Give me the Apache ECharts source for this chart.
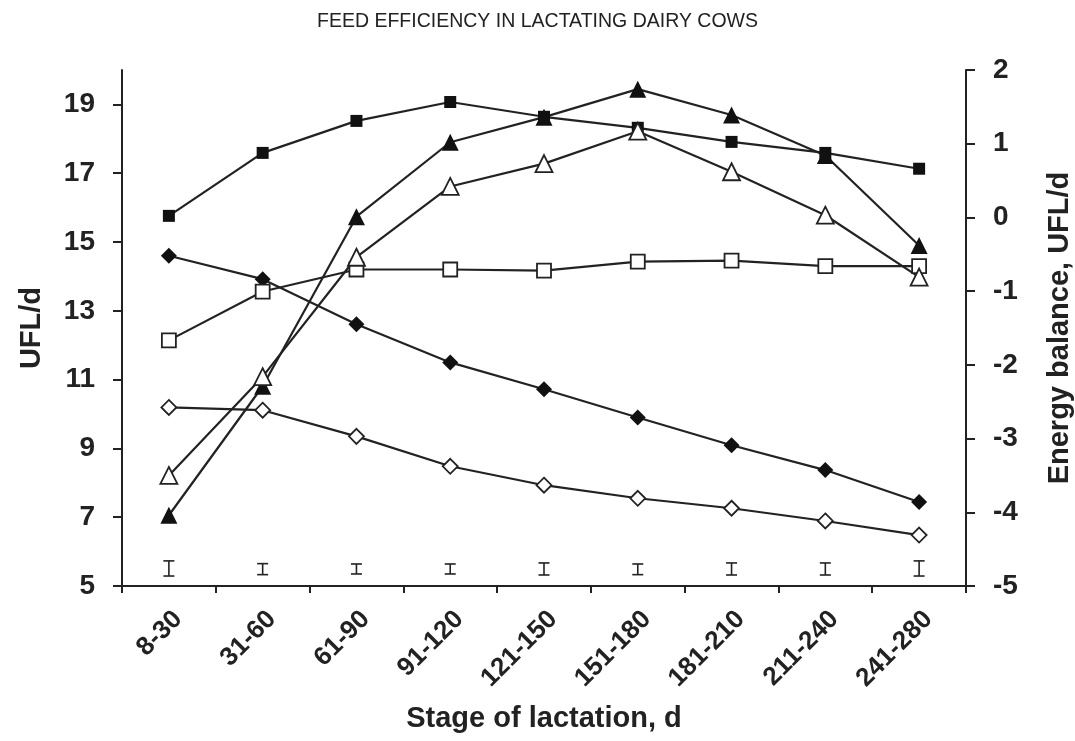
<!DOCTYPE html>
<html>
<head>
<meta charset="utf-8">
<script src="https://cdn.jsdelivr.net/npm/echarts@6/dist/echarts.min.js"></script>
<style>
  html, body { margin: 0; padding: 0; background: #fff; }
  #chart { width: 1075px; height: 741px; }
</style>
</head>
<body>
<div id="chart"></div>
<script>
// Stages of lactation (days in milk)
const stages = ['8-30', '31-60', '61-90', '91-120', '121-150', '151-180', '181-210', '211-240', '241-280'];

// Left axis, UFL/d
const ticksLeft = [5, 7, 9, 11, 13, 15, 17, 19];
const intakeUFL = [15.76, 17.59, 18.52, 19.07, 18.64, 18.32, 17.91, 17.59, 17.13];      // filled squares
const requirementUFL = [12.14, 13.56, 14.20, 14.20, 14.17, 14.43, 14.46, 14.30, 14.30]; // open squares
const milkUFL = [14.60, 13.92, 12.61, 11.50, 10.72, 9.90, 9.09, 8.37, 7.44];            // filled diamonds
const efficiency = [10.19, 10.11, 9.35, 8.48, 7.93, 7.55, 7.26, 6.89, 6.48];             // open diamonds

// Standard error bars drawn along the bottom of the left axis
const seLow = [5.29, 5.33, 5.35, 5.35, 5.32, 5.33, 5.32, 5.32, 5.29];
const seHigh = [5.73, 5.65, 5.64, 5.64, 5.67, 5.64, 5.67, 5.67, 5.73];

// Right axis, energy balance UFL/d
const balanceA = [-4.04, -2.29, 0.01, 1.02, 1.36, 1.74, 1.39, 0.84, -0.38];  // filled triangles
const balanceB = [-3.50, -2.16, -0.54, 0.42, 0.73, 1.17, 0.62, 0.03, -0.81]; // open triangles

const INK = '#222';
const FONT = '"Liberation Sans", Arial, Helvetica, sans-serif';

function lineSeries(name, data, yIndex, symbol, size, filled) {
  return {
    name: name,
    type: 'line',
    yAxisIndex: yIndex,
    data: data,
    symbol: symbol,
    symbolSize: size,
    showAllSymbol: true,
    lineStyle: { color: INK, width: 2.2 },
    itemStyle: filled
      ? { color: '#111', borderColor: '#111', borderWidth: 0 }
      : { color: '#fff', borderColor: INK, borderWidth: 1.8 },
    emphasis: { disabled: true },
    z: filled ? 3 : 4
  };
}

const chart = echarts.init(document.getElementById('chart'), null, { renderer: 'canvas' });

chart.setOption({
  animation: false,
  backgroundColor: '#fff',
  title: {
    text: 'FEED EFFICIENCY IN LACTATING DAIRY COWS',
    left: 'center',
    top: 7,
    textStyle: { fontFamily: FONT, fontSize: 19.5, fontWeight: 'normal', color: INK }
  },
  grid: { left: 122, right: 109, top: 70, bottom: 155, containLabel: false, outerBoundsMode: 'none' },
  xAxis: {
    type: 'category',
    data: stages,
    boundaryGap: true,
    name: 'Stage of lactation, d',
    nameLocation: 'middle',
    nameGap: 118,
    nameTextStyle: { fontFamily: FONT, fontSize: 29, fontWeight: 'bold', color: INK },
    axisLine: { onZero: false, lineStyle: { color: INK, width: 2 } },
    axisTick: { show: true, length: 7, lineStyle: { color: INK, width: 2 } },
    axisLabel: {
      rotate: 45,
      margin: 20,
      verticalAlign: 'top',
      fontFamily: FONT, fontSize: 26, fontWeight: 'bold', color: INK
    },
    splitLine: { show: false }
  },
  yAxis: [
    {
      type: 'value',
      position: 'left',
      min: 5,
      max: 20,
      name: 'UFL/d',
      nameLocation: 'middle',
      nameGap: 76,
      nameTextStyle: { fontFamily: FONT, fontSize: 29, fontWeight: 'bold', color: INK },
      axisLine: { show: true, onZero: false, lineStyle: { color: INK, width: 2 } },
      axisTick: { show: true, length: 9, customValues: ticksLeft, lineStyle: { color: INK, width: 2 } },
      axisLabel: { margin: 27, customValues: ticksLeft, fontFamily: FONT, fontSize: 28, fontWeight: 'bold', color: INK },
      splitLine: { show: false }
    },
    {
      type: 'value',
      position: 'right',
      min: -5,
      max: 2,
      interval: 1,
      name: 'Energy balance, UFL/d',
      nameLocation: 'middle',
      nameGap: 79,
      nameTextStyle: { fontFamily: FONT, fontSize: 29, fontWeight: 'bold', color: INK },
      axisLine: { show: true, onZero: false, lineStyle: { color: INK, width: 2 } },
      axisTick: { show: true, length: 9, lineStyle: { color: INK, width: 2 } },
      axisLabel: { margin: 27, fontFamily: FONT, fontSize: 28, fontWeight: 'bold', color: INK },
      splitLine: { show: false }
    }
  ],
  series: [
    lineSeries('Intake', intakeUFL, 0, 'rect', 12, true),
    lineSeries('Requirement', requirementUFL, 0, 'rect', 14, false),
    lineSeries('Milk energy', milkUFL, 0, 'diamond', 16, true),
    lineSeries('Efficiency', efficiency, 0, 'diamond', 15, false),
    lineSeries('Balance A', balanceA, 1, 'triangle', 17, true),
    lineSeries('Balance B', balanceB, 1, 'triangle', 17, false),
    {
      name: 'SE',
      type: 'custom',
      yAxisIndex: 0,
      data: stages.map((s, i) => [i, seLow[i], seHigh[i]]),
      encode: { x: 0, y: [1, 2] },
      renderItem: function (params, api) {
        const lo = api.coord([api.value(0), api.value(1)]);
        const hi = api.coord([api.value(0), api.value(2)]);
        const w = 5.5;
        const style = { stroke: INK, lineWidth: 1.6 };
        return {
          type: 'group',
          children: [
            { type: 'line', shape: { x1: lo[0], y1: lo[1], x2: hi[0], y2: hi[1] }, style: style },
            { type: 'line', shape: { x1: lo[0] - w, y1: lo[1], x2: lo[0] + w, y2: lo[1] }, style: style },
            { type: 'line', shape: { x1: hi[0] - w, y1: hi[1], x2: hi[0] + w, y2: hi[1] }, style: style }
          ]
        };
      },
      z: 2
    }
  ]
});
</script>
</body>
</html>
